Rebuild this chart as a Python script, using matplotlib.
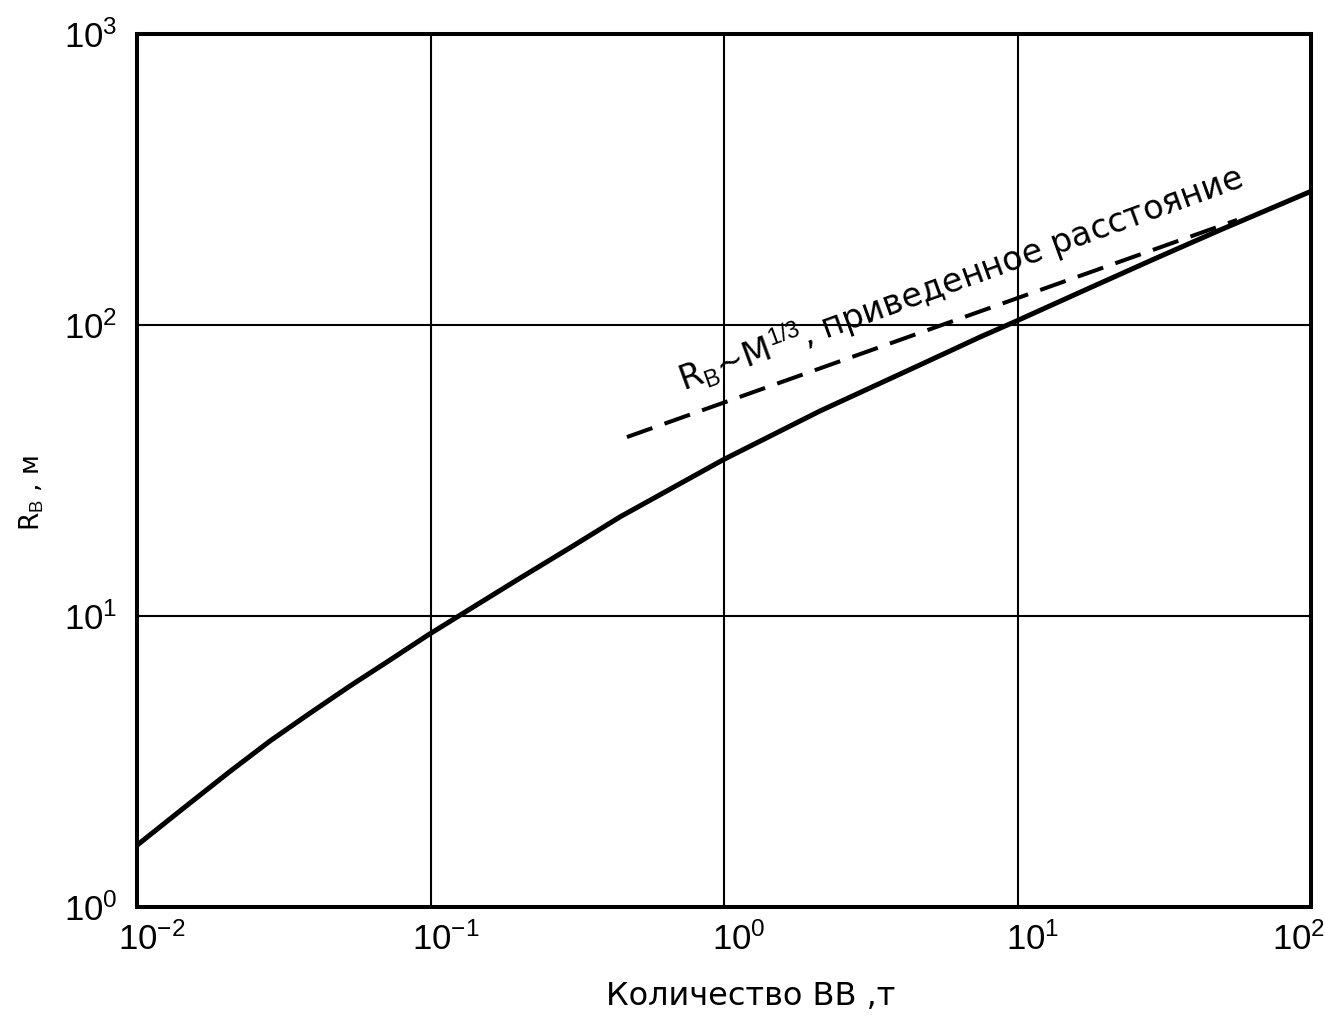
import numpy as np
import matplotlib
matplotlib.use("Agg")
import matplotlib.pyplot as plt
from matplotlib.transforms import ScaledTranslation


###################################
# данные
###################################

# количество ВВ, т  и  радиус R_B, м  (сплошная кривая)
massa = [0.01, 0.0146, 0.0208, 0.0284, 0.0389, 0.0532, 0.0728, 0.098,
         0.1475, 0.202, 0.30, 0.442, 0.992, 2.12, 4.65, 7.45, 9.66, 17.3,
         29.0, 49.0, 100.0]
raio = [1.63, 2.21, 2.93, 3.72, 4.64, 5.75, 7.06, 8.60,
        11.1, 13.5, 17.2, 21.9, 34.4, 50.6, 72.9, 90.9, 102.0, 133.0,
        168.0, 212.0, 288.0]

# прямая R_B ~ M^(1/3) (штриховая)
massa_tr = [0.467, 56.0]
raio_tr = [41.2, 229.6]

xticks = [1e-2, 1e-1, 1e0, 1e1, 1e2]
xtick_labels = ['$10^{-2}$', '$10^{-1}$', '$10^{0}$', '$10^{1}$', '$10^{2}$']
yticks = [1e0, 1e1, 1e2, 1e3]
ytick_labels = ['$10^{0}$', '$10^{1}$', '$10^{2}$', '$10^{3}$']

texto = 'R$_{\\mathrm{В}}$~M$^{1/3}$, приведенное расстояние'


###################################
# оформление
###################################

plt.rcParams['font.family'] = ['DejaVu Sans']
plt.rcParams['mathtext.fontset'] = 'custom'
plt.rcParams['mathtext.rm'] = 'Liberation Sans'
plt.rcParams['mathtext.it'] = 'Liberation Sans'
plt.rcParams['mathtext.bf'] = 'Liberation Sans:bold'

fig = plt.figure(figsize=(13.25, 10.22), dpi=100)
ax = fig.add_axes([137/1325, 115/1022, 1174/1325, 873/1022])

ax.plot(massa, raio, color='black', lw=3.6, solid_capstyle='butt')
ax.plot(massa_tr, raio_tr, color='black', lw=2.9, dashes=(6.7, 3.2))

ax.set_xscale('log')
ax.set_yscale('log')
ax.set_xlim(1e-2, 1e2)
ax.set_ylim(1e0, 1e3)

ax.set_xticks(xticks)
ax.set_xticklabels(xtick_labels, fontsize=25)
ax.set_yticks(yticks)
ax.set_yticklabels(ytick_labels, fontsize=25)
ax.minorticks_off()
ax.tick_params(axis='x', length=0, pad=11)
ax.tick_params(axis='y', length=0, pad=14)

# цифра "10" стоит над линией сетки, показатель справа
xlabs = ax.get_xticklabels()
for lab in xlabs[:-1]:
    lab.set_transform(lab.get_transform() + ScaledTranslation(0.15, 0, fig.dpi_scale_trans))
xlabs[-1].set_ha('right')
xlabs[-1].set_transform(xlabs[-1].get_transform() + ScaledTranslation(0.14, 0, fig.dpi_scale_trans))

ax.grid(True, which='major', color='black', lw=1.5)
for s in ax.spines.values():
    s.set_linewidth(2.9)

ax.set_xlabel('Количество ВВ ,т', fontsize=23)
ax.xaxis.set_label_coords((751-137)/1174, (907-996)/873)
ax.xaxis.label.set_va('center')

ax.set_ylabel('R$_{\\mathrm{В}}$ , м', fontsize=19)
ax.yaxis.set_label_coords((32-137)/1174, (907-493)/873)
ax.yaxis.label.set_va('center')

ax.text(0.73, 59.0, texto, fontsize=24, rotation=20,
        rotation_mode='anchor', ha='left', va='baseline')

fig.savefig('out.png', dpi=100)
